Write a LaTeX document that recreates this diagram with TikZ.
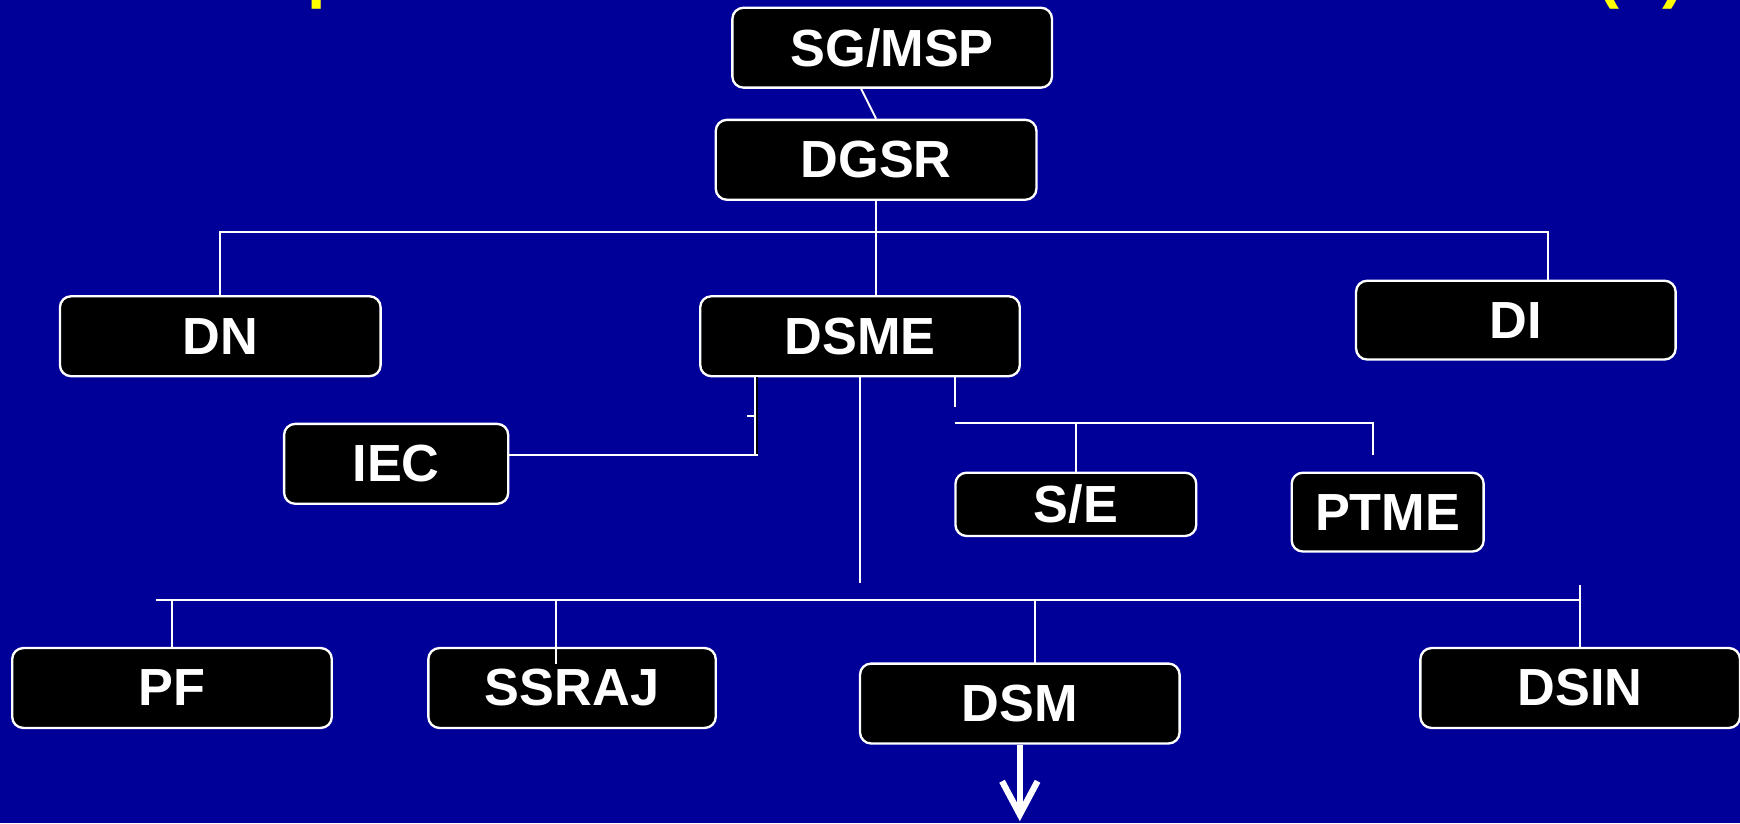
\documentclass[tikz,border=0pt]{standalone}
\usepackage{fontspec}
\setmainfont{Liberation Sans}
\usetikzlibrary{arrows.meta}
\definecolor{slideblue}{RGB}{0,0,153}
\definecolor{titleyellow}{RGB}{255,255,0}
\begin{document}
\begin{tikzpicture}[x=0.1mm,y=-0.1mm,
    unit/.style={draw=white,fill=black,line width=0.6pt,rectangle,rounded corners=1mm,text=white,font=\fontsize{13.4}{16}\selectfont\bfseries,inner sep=0pt,minimum width=28.8mm,minimum height=7.2mm},
    link/.style={white,line width=0.5pt},
    title/.style={text=titleyellow,font=\fontsize{17}{20}\selectfont\bfseries,inner sep=0pt,anchor=base west}]
        %% Background
        \fill[slideblue] (0,0) rectangle (1568,742);
        \useasboundingbox (0,0) rectangle (1568,742);
        %% Title, cut off at the top
        \node[title] (tp) at (276,-4) {p};
        \node[title] (tl) at (1439,-4) {(};
        \node[title] (tr) at (1497,-4) {)};
        %% Units
        \node[unit] (sgmsp) at (804,43) {SG/MSP};
        \node[unit,minimum width=28.9mm] (dgsr) at (789.5,144) {DGSR};
        \node[unit,minimum width=28.9mm] (dn) at (198.5,303) {DN};
        \node[unit] (dsme) at (775,303) {DSME};
        \node[unit,minimum height=7.1mm] (di) at (1366,288.5) {DI};
        \node[unit,minimum width=20.2mm] (iec) at (357,418) {IEC};
        \node[unit,minimum width=21.7mm,minimum height=5.7mm] (se) at (969.5,454.5) {S/E};
        \node[unit,minimum width=17.3mm,minimum height=7.1mm] (ptme) at (1250.5,461.5) {PTME};
        \node[unit] (pf) at (155,620) {PF};
        \node[unit,minimum width=25.9mm] (ssraj) at (515.5,620) {SSRAJ};
        \node[unit] (dsm) at (919,634) {DSM};
        \node[unit] (dsin) at (1424,620) {DSIN};
        %% Junctions
        \coordinate (topbus) at (789,209);
        \coordinate (ditap) at (1395,253);
        \coordinate (iecjoin) at (680,410);
        \coordinate (dsmeend) at (775,525);
        \coordinate (dsmeright) at (861,367);
        \coordinate (sebus) at (861,381);
        \coordinate (ptmeend) at (1237,410);
        \coordinate (lowbus) at (141,541);
        \coordinate (ssrajtap) at (501,598);
        \coordinate (dsmtap) at (933,598);
        \coordinate (dsintop) at (1424,527);
        %% Links
        \draw[link] ([xshift=-2.8mm]sgmsp.south) -- (dgsr.north);
        \draw[link] (dgsr.south) -- (dgsr.south |- dsme.north);
        \draw[link] (dn.north) -- (dn.north |- topbus) -- (ditap |- topbus) -- (ditap);
        \draw[black,line width=0.5pt] ([xshift=0.25mm]iecjoin |- dsme.south) -- ([xshift=0.25mm]iecjoin);
        \draw[link] (iecjoin |- dsme.south) -- (iecjoin);
        \draw[link] ([xshift=-0.65mm]iecjoin |- 0,375) -- (iecjoin |- 0,375);
        \draw[link] (iec.east |- iecjoin) -- ([xshift=0.3mm]iecjoin);
        \draw[link] (dsme.south) -- (dsmeend);
        \draw[link] (dsmeright |- dsme.south) -- (dsmeright);
        \draw[link] (sebus) -- (ptmeend |- sebus) -- (ptmeend);
        \draw[link] (se.north |- sebus) -- (se.north);
        \draw[link] (lowbus) -- (dsintop |- lowbus);
        \draw[link] (pf.north |- lowbus) -- (pf.north);
        \draw[link] (ssrajtap |- lowbus) -- (ssrajtap);
        \draw[link] (dsmtap |- lowbus) -- (dsmtap);
        \draw[link] (dsintop) -- (dsin.north);
        %% Onward
        \draw[white,line width=1.6pt,-{Straight Barb[length=3mm,width=3.2mm]}] (dsm.south) -- (dsm.south |- 0,740);
    \end{tikzpicture}
\end{document}
